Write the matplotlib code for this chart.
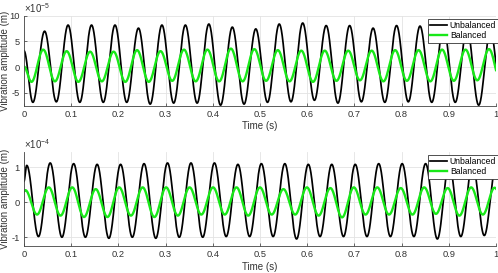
import numpy as np
import matplotlib.pyplot as plt

plt.rcParams["font.family"] = ["Liberation Sans", "DejaVu Sans"]
plt.rcParams["axes.unicode_minus"] = False
plt.rcParams["mathtext.fontset"] = "custom"
plt.rcParams["mathtext.rm"] = "Liberation Sans"

# values: alternating extrema of each signal
half_period = 0.02485  # s, half of one ~20 Hz cycle

# top plot (x 1e-5 m)
top_unbal_start = 3.2
top_unbal_first = 0.019
top_unbal_troughs = [-6.9, -6.8, -6.9, -6.9, -6.9, -7.25, -7.05, -7.05, -7.45, -7.25, -6.9,
                     -6.8, -6.5, -7.05, -6.8, -6.9, -6.8, -6.9, -6.9, -7.45, -7.0]
top_unbal_peaks = [7.0, 8.2, 8.2, 8.2, 7.6, 8.2, 8.2, 8.4, 7.8, 7.45, 8.4, 8.6, 8.1, 8.1,
                   7.6, 8.1, 8.0, 7.8, 7.6, 7.0]

top_bal_start = 0.1
top_bal_first = 0.016
top_bal_troughs = [-2.9, -2.8, -2.9, -2.8, -2.9, -2.9, -2.7, -2.8, -2.8, -2.8, -2.7,
                   -2.8, -2.9, -2.7, -2.6, -2.8, -2.7, -2.8, -2.7, -2.6, -2.8]
top_bal_peaks = [3.4, 3.1, 3.0, 3.0, 3.3, 3.1, 3.4, 3.4, 3.6, 3.5, 3.3, 3.2, 3.2, 3.2,
                 3.2, 3.3, 3.3, 3.4, 3.4, 3.5]

# bottom plot (x 1e-4 m)
bot_unbal_start = 0.6
bot_unbal_first = 0.006
bot_unbal_peaks = [1.06, 1.13, 1.11, 1.09, 1.09, 1.11, 1.13, 1.13, 1.13, 1.09, 1.11,
                   1.11, 1.09, 1.09, 1.09, 1.11, 1.11, 1.11, 1.11, 1.09, 1.05]
bot_unbal_troughs = [-0.98, -1.0, -1.0, -1.03, -1.0, -1.03, -1.0, -1.0, -0.98, -0.98,
                     -0.98, -1.05, -0.98, -0.98, -0.98, -0.98, -0.98, -1.05, -0.98, -0.95, -1.0]

bot_bal_start = 0.31
bot_bal_first = 0.003
bot_bal_peaks = [0.35, 0.43, 0.43, 0.38, 0.43, 0.43, 0.43, 0.43, 0.43, 0.43, 0.43,
                 0.38, 0.43, 0.41, 0.43, 0.43, 0.41, 0.43, 0.41, 0.43, 0.42]
bot_bal_troughs = [-0.35, -0.38, -0.42, -0.42, -0.38, -0.42, -0.38, -0.35, -0.35, -0.38,
                   -0.35, -0.35, -0.38, -0.43, -0.35, -0.35, -0.35, -0.33, -0.38, -0.35, -0.35]

xticks = [0, 0.1, 0.2, 0.3, 0.4, 0.5, 0.6, 0.7, 0.8, 0.9, 1]
xtick_labels = ["0", "0.1", "0.2", "0.3", "0.4", "0.5", "0.6", "0.7", "0.8", "0.9", "1"]
top_yticks = [-5, 0, 5, 10]
bot_yticks = [-1, 0, 1]


def interleave(a, b):
    out = []
    for i in range(max(len(a), len(b))):
        if i < len(a):
            out.append(a[i])
        if i < len(b):
            out.append(b[i])
    return out


def smooth_curve(start, first, extrema, t):
    # half-cosine segments between the read extrema
    times = np.array([0.0] + [first + i * half_period for i in range(len(extrema))])
    vals = np.array([start] + list(extrema))
    idx = np.clip(np.searchsorted(times, t, side="right") - 1, 0, len(times) - 2)
    ta, tb = times[idx], times[idx + 1]
    va, vb = vals[idx], vals[idx + 1]
    frac = (t - ta) / (tb - ta)
    return va + (vb - va) * (1 - np.cos(np.pi * frac)) / 2


t = np.linspace(0, 1, 4000)

top_unbal = smooth_curve(top_unbal_start, top_unbal_first,
                         interleave(top_unbal_troughs, top_unbal_peaks), t)
top_bal = smooth_curve(top_bal_start, top_bal_first,
                       interleave(top_bal_troughs, top_bal_peaks), t)
bot_unbal = smooth_curve(bot_unbal_start, bot_unbal_first,
                         interleave(bot_unbal_peaks, bot_unbal_troughs), t)
bot_bal = smooth_curve(bot_bal_start, bot_bal_first,
                       interleave(bot_bal_peaks, bot_bal_troughs), t)

fig = plt.figure(figsize=(4.98, 2.73), dpi=100)
ax1 = fig.add_axes([0.048, 0.612, 0.948, 0.330])
ax2 = fig.add_axes([0.048, 0.099, 0.948, 0.345])

green = "#18e818"
text_col = "#333333"
panels = [
    (ax1, top_unbal, top_bal, (-7.6, 10), top_yticks, "-5"),
    (ax2, bot_unbal, bot_bal, (-1.25, 1.45), bot_yticks, "-4"),
]

for ax, unbal, bal, ylim, yticks, expo in panels:
    ax.plot(t, unbal, color="black", lw=1.25, label="Unbalanced")
    ax.plot(t, bal, color=green, lw=1.7, label="Balanced")
    ax.set_xlim(0, 1)
    ax.set_ylim(*ylim)
    ax.set_xticks(xticks)
    ax.set_xticklabels(xtick_labels)
    ax.set_yticks(yticks)
    ax.set_yticklabels([str(v) for v in yticks])
    ax.text(0.0, 1.005, r"$\times10^{" + expo + "}$", transform=ax.transAxes,
            fontsize=7, color=text_col, ha="left", va="bottom")
    ax.grid(True, color="#e3e3e3", lw=0.6)
    ax.set_axisbelow(True)
    for side in ["top", "right"]:
        ax.spines[side].set_visible(False)
    for side in ["left", "bottom"]:
        ax.spines[side].set_color("#444444")
        ax.spines[side].set_linewidth(0.6)
    ax.tick_params(direction="in", length=2.5, width=0.5, labelsize=6.7,
                   colors=text_col, pad=3)
    ax.set_xlabel("Time (s)", fontsize=7, color=text_col)
    ax.set_ylabel("Vibration amplitude (m)", fontsize=7, color=text_col)
    ax.xaxis.set_label_coords(0.5, -0.165)
    ax.yaxis.set_label_coords(-0.03, 0.5)
    leg = ax.legend(loc="upper right", bbox_to_anchor=(1.005, 0.97), fontsize=6.2,
                    frameon=True, fancybox=False, framealpha=1, edgecolor="#333333",
                    borderpad=0.25, labelspacing=0.2, handlelength=2.0,
                    handletextpad=0.3, borderaxespad=0)
    leg.get_frame().set_linewidth(0.6)

fig.savefig("out.png", dpi=100)
